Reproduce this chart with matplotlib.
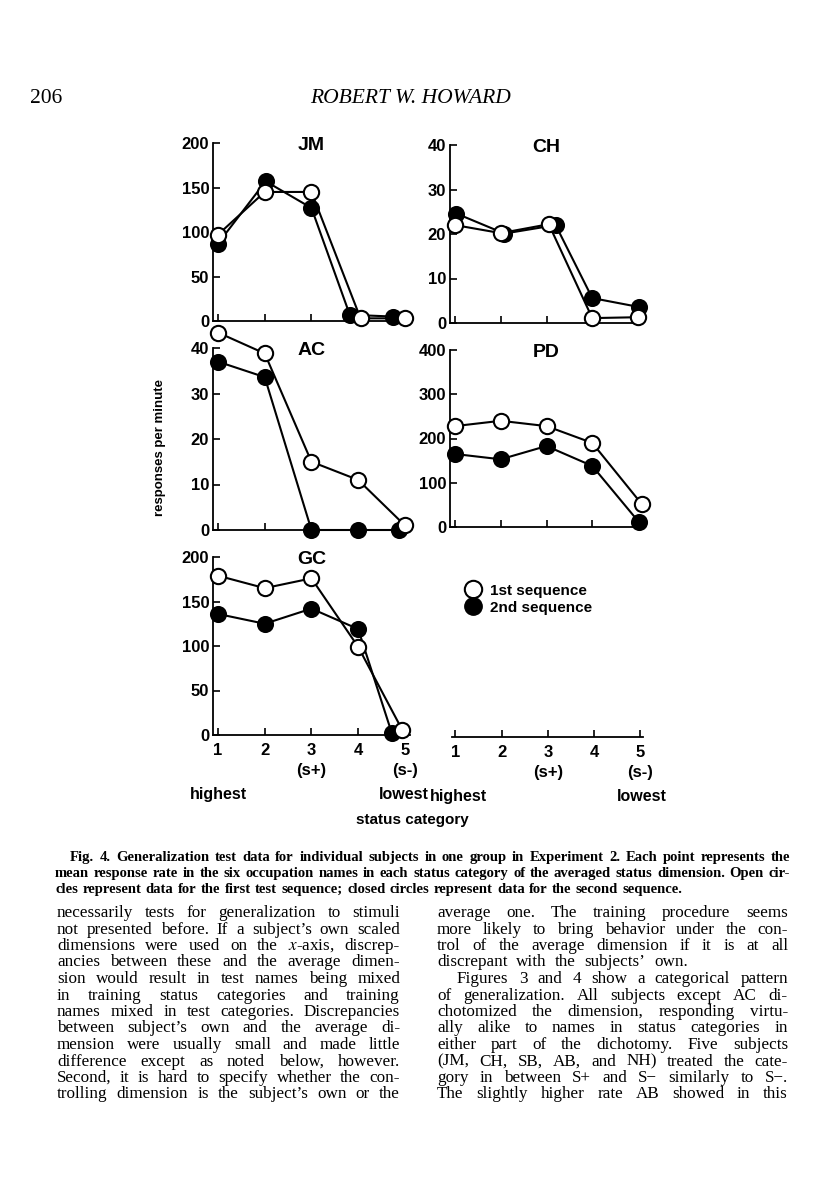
import matplotlib
matplotlib.use('Agg')
import matplotlib.pyplot as plt
from matplotlib.lines import Line2D

# page size in pixels (dpi 100)
W, H = 816, 1200

categories = [1, 2, 3, 4, 5]
cat_labels = ['1', '2', '3\n(s+)', '4', '5\n(s-)']
end_labels = ['highest', 'lowest']

# JM
jm_open = [97, 145, 145, 3, 3]
jm_open_x = [1, 2, 3, 4.05, 5.0]
jm_closed = [87, 157, 127, 7, 5]
jm_closed_x = [1, 2.02, 3, 3.82, 4.74]

# CH
ch_open = [22, 20.2, 22.2, 1.1, 1.3]
ch_open_x = [1, 2, 3.05, 4, 5]
ch_closed = [24.6, 20.1, 22, 5.6, 3.6]
ch_closed_x = [1.03, 2.08, 3.2, 4, 5.02]

# AC
ac_open = [43.4, 38.8, 15, 11, 1]
ac_open_x = [1, 2, 3, 4, 5]
ac_closed = [37, 33.6, 0, 0, 0]
ac_closed_x = [1, 2, 3, 4, 4.87]

# PD
pd_open = [228, 240, 228, 190, 52]
pd_open_x = [1, 2, 3, 4, 5.08]
pd_closed = [165, 153, 183, 138, 11]
pd_closed_x = [1, 2, 3, 4, 5.02]

# GC
gc_open = [179, 165, 176, 99, 6]
gc_open_x = [1, 2, 3, 4, 4.94]
gc_closed = [136, 125, 142, 119, 2]
gc_closed_x = [1, 2, 3, 4, 4.72]

SANS = ['Liberation Sans', 'DejaVu Sans']
SERIF = ['Liberation Serif', 'DejaVu Serif']

plt.rcParams['mathtext.fontset'] = 'stix'

caption_lines = [
    ('Fig. 4. Generalization test data for individual subjects in one group in Experiment 2. Each point represents the', True, 15),
    ('mean response rate in the six occupation names in each status category of the averaged status dimension. Open cir-', True, 0),
    ('cles represent data for the first test sequence; closed circles represent data for the second sequence.', False, 0),
]

left_lines = [
    ('necessarily tests for generalization to stimuli', True, 0),
    ('not presented before. If a subject\u2019s own scaled', True, 0),
    ('dimensions were used on the $x$-axis, discrep-', True, 0),
    ('ancies between these and the average dimen-', True, 0),
    ('sion would result in test names being mixed', True, 0),
    ('in training status categories and training', True, 0),
    ('names mixed in test categories. Discrepancies', True, 0),
    ('between subject\u2019s own and the average di-', True, 0),
    ('mension were usually small and made little', True, 0),
    ('difference except as noted below, however.', True, 0),
    ('Second, it is hard to specify whether the con-', True, 0),
    ('trolling dimension is the subject\u2019s own or the', True, 0),
]

right_lines = [
    ('average one. The training procedure seems', True, 0),
    ('more likely to bring behavior under the con-', True, 0),
    ('trol of the average dimension if it is at all', True, 0),
    ('discrepant with the subjects\u2019 own.', False, 0),
    ('Figures 3 and 4 show a categorical pattern', True, 20),
    ('of generalization. All subjects except AC di-', True, 0),
    ('chotomized the dimension, responding virtu-', True, 0),
    ('ally alike to names in status categories in', True, 0),
    ('either part of the dichotomy. Five subjects', True, 0),
    ('(JM, CH, SB, AB, and NH) treated the cate-', True, 0),
    ('gory in between S+ and S\u2212 similarly to S\u2212.', True, 0),
    ('The slightly higher rate AB showed in this', True, 0),
]


def add_axes_px(fig, x0, x1, ybot, ytop):
    return fig.add_axes([x0 / W, 1 - ybot / H, (x1 - x0) / W, (ybot - ytop) / H])


def style_axis(ax, bottom_labels):
    ax.set_xticks(categories)
    if bottom_labels:
        ax.set_xticklabels(cat_labels, linespacing=1.4)
    else:
        ax.set_xticklabels([])
    for s in ['top', 'right']:
        ax.spines[s].set_visible(False)
    for s in ['left', 'bottom']:
        ax.spines[s].set_linewidth(1.3)
    ax.tick_params(direction='in', length=5, width=1.2)
    ax.tick_params(axis='y', pad=3)
    ax.tick_params(axis='x', pad=6)
    for lab in ax.get_yticklabels() + ax.get_xticklabels():
        lab.set_family(SANS)
        lab.set_fontweight('bold')
        lab.set_fontsize(12)
    ax.patch.set_alpha(0)


def end_words(ax, x_hi, x_lo):
    # "highest" / "lowest" under the first and last category
    for x, word in zip([x_hi, x_lo], end_labels):
        ax.annotate(word, xy=(x, 0), xycoords=('data', 'axes fraction'),
                    xytext=(0, -42.5), textcoords='offset points',
                    ha='center', va='center', fontsize=11.5,
                    family=SANS, fontweight='bold')


def panel(ax, name, xo, yo, xc, yc, top, step, bottom_labels=False):
    ax.plot(xc, yc, '-', color='black', lw=1.5, marker='o', ms=11,
            mfc='black', mec='black', mew=1.3, clip_on=False, zorder=3)
    ax.plot(xo, yo, '-', color='black', lw=1.5, marker='o', ms=11,
            mfc='white', mec='black', mew=1.5, clip_on=False, zorder=4)
    ax.set_xlim(0.9, 5.1)
    ax.set_ylim(0, top)
    ax.set_yticks(range(0, top + 1, step))
    style_axis(ax, bottom_labels)
    ax.text(3, top * 0.985, name, ha='center', va='center', fontsize=14,
            family=SANS, fontweight='bold')


def place_lines(fig, renderer, lines, x0, x1, y0, dy, size, weight='normal', space_em=0.5):
    space = space_em * size * 100 / 72
    for i, (text, just, indent) in enumerate(lines):
        y = y0 + i * dy
        words = text.split(' ')
        objs = [fig.text(0, 0, w, fontsize=size, fontweight=weight, family=SERIF,
                         ha='left', va='baseline') for w in words]
        widths = [o.get_window_extent(renderer).width for o in objs]
        if just and len(words) > 1:
            gap = (x1 - x0 - indent - sum(widths)) / (len(words) - 1)
        else:
            gap = space
        x = x0 + indent
        for o, w in zip(objs, widths):
            o.set_position((x / W, 1 - y / H))
            x += w + gap


fig = plt.figure(figsize=(W / 100, H / 100), dpi=100)

ax_jm = add_axes_px(fig, 213.3, 409.6, 321, 143)
panel(ax_jm, 'JM', jm_open_x, jm_open, jm_closed_x, jm_closed, 200, 50)

ax_ch = add_axes_px(fig, 450.4, 642.6, 323, 145)
panel(ax_ch, 'CH', ch_open_x, ch_open, ch_closed_x, ch_closed, 40, 10)

ax_ac = add_axes_px(fig, 213.3, 409.6, 530, 348)
panel(ax_ac, 'AC', ac_open_x, ac_open, ac_closed_x, ac_closed, 40, 10)

ax_pd = add_axes_px(fig, 450.4, 642.6, 527, 350)
panel(ax_pd, 'PD', pd_open_x, pd_open, pd_closed_x, pd_closed, 400, 100)

ax_gc = add_axes_px(fig, 213.3, 409.6, 735, 557)
panel(ax_gc, 'GC', gc_open_x, gc_open, gc_closed_x, gc_closed, 200, 50,
      bottom_labels=True)
end_words(ax_gc, 1.0, 4.97)

# empty axis at bottom right, only the category scale
ax_e = add_axes_px(fig, 452, 642.6, 737, 560)
ax_e.set_xlim(0.93, 5.05)
ax_e.set_ylim(0, 1)
ax_e.set_yticks([])
style_axis(ax_e, True)
ax_e.spines['left'].set_visible(False)
end_words(ax_e, 1.07, 5.03)

# legend
handles = [
    Line2D([], [], ls='none', marker='o', ms=12.5, mfc='white', mec='black', mew=1.5),
    Line2D([], [], ls='none', marker='o', ms=12.5, mfc='black', mec='black'),
]
fig.legend(handles, ['1st sequence', '2nd sequence'], loc='upper left',
           bbox_to_anchor=(458 / W, 1 - 576 / H), frameon=False,
           handlelength=0.9, handletextpad=0.7, labelspacing=0.2, borderpad=0,
           prop={'family': SANS, 'size': 11, 'weight': 'bold'})

fig.text(160 / W, 1 - 448 / H, 'responses per minute', rotation=90, ha='center',
         va='center', fontsize=9.5, family=SANS, fontweight='bold')
fig.text(412 / W, 1 - 820 / H, 'status category', ha='center', va='center',
         fontsize=11, family=SANS, fontweight='bold')

# page header
fig.text(30 / W, 1 - 103 / H, '206', ha='left', va='baseline', fontsize=15.5, family=SERIF)
fig.text(410 / W, 1 - 103 / H, 'ROBERT W. HOWARD', ha='center', va='baseline',
         fontsize=15.5, family=SERIF, style='italic')

renderer = fig.canvas.get_renderer()
place_lines(fig, renderer, caption_lines, 55, 790, 861, 16, 10.5, weight='bold', space_em=0.3)
place_lines(fig, renderer, left_lines, 57, 400, 917, 16.5, 12.3)
place_lines(fig, renderer, right_lines, 437, 788, 917, 16.5, 12.3)

fig.savefig('out.png', dpi=100)
